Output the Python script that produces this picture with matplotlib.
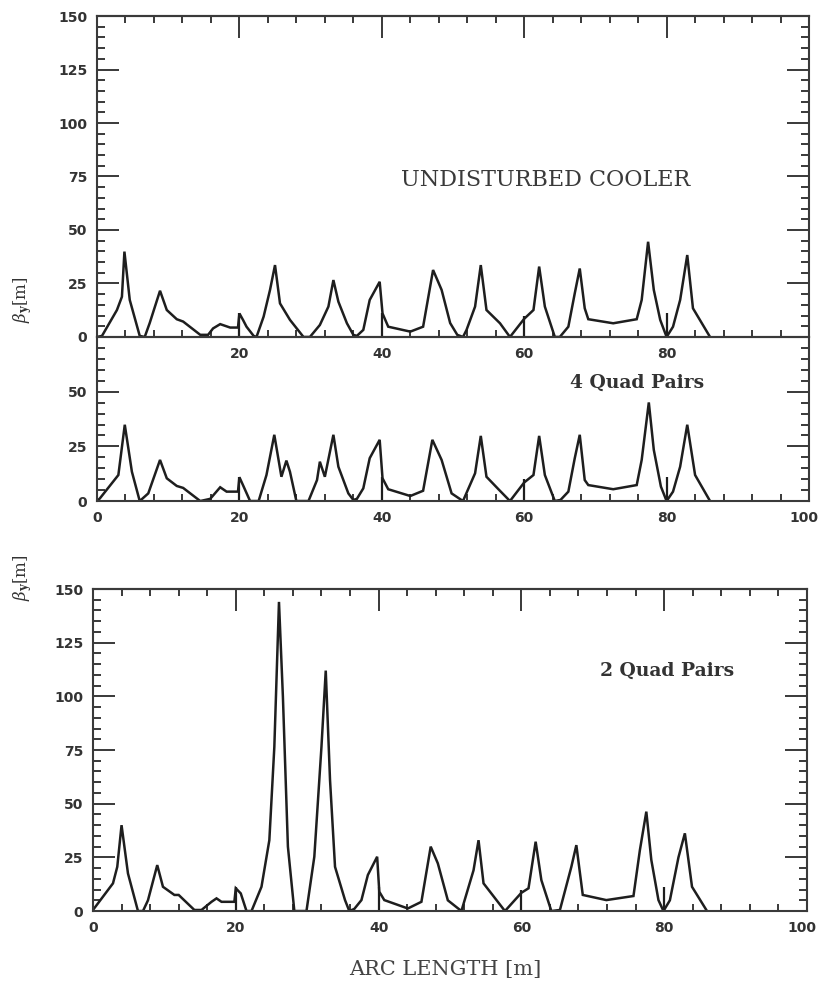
import matplotlib
matplotlib.use("Agg")
import matplotlib.pyplot as plt
import matplotlib.transforms as mtransforms
from matplotlib.ticker import MultipleLocator, FixedLocator, FuncFormatter

# beta_y along the arc, undisturbed cooler
x_undist = [0.0, 0.7, 2.8, 3.5, 3.85, 4.6, 6.0, 6.7, 7.4, 8.85,
            9.8, 11.2, 12.1, 14.5, 15.6, 16.3, 17.3, 18.7, 19.8, 20.0,
            20.5, 21.0, 22.0, 22.4, 23.4, 24.3, 25.0, 25.7, 27.1, 29.0,
            29.9, 31.3, 32.5, 33.2, 33.9, 35.1, 36.0, 36.5, 37.4, 38.3,
            39.7, 40.1, 40.9, 44.0, 45.8, 47.2, 48.4, 49.6, 50.6, 51.4,
            51.9, 53.1, 53.9, 54.7, 56.6, 58.0, 60.0, 61.3, 62.1, 62.9,
            64.3, 65.0, 66.2, 67.1, 67.8, 68.5, 69.0, 72.5, 75.8, 76.5,
            77.4, 78.2, 79.1, 80.0, 80.9, 81.9, 82.9, 83.7, 86.1]
y_undist = [0, 0.5, 12.6, 18.8, 39.9, 17.3, 0.5, 0, 6.5, 21.6,
            12.6, 8.3, 7.2, 1, 1, 4, 6, 4.4, 4.4, 11,
            8, 4.8, 0.5, 0, 9.5, 22, 33.6, 15.7, 8, 0,
            0, 5.6, 14.2, 26.6, 16.5, 6.4, 1, 0.5, 3.3, 17.3,
            25.8, 11, 4.8, 2.5, 4.8, 31.3, 22, 6.5, 1, 0,
            3.3, 14.2, 33.6, 12.6, 6.4, 0, 8.5, 12.6, 32.9, 14.2,
            0, 0, 4.8, 20.4, 32, 13.4, 8.3, 6.4, 8.3, 17.3,
            44.5, 22, 8, 0, 4.8, 17.3, 38.3, 13.4, 0]

# 4 quad pairs
x_quad4 = [0.0, 0.4, 3.0, 3.9, 4.9, 6.0, 7.2, 8.85, 9.8, 11.2,
           12.1, 14.5, 15.9, 17.3, 18.2, 19.8, 20.0, 20.5, 21.5, 22.7,
           23.8, 24.9, 25.9, 26.6, 27.1, 28.0, 29.7, 30.9, 31.3, 32.0,
           33.2, 33.9, 35.3, 36.0, 36.5, 37.4, 38.3, 39.7, 40.1, 40.9,
           44.0, 45.8, 47.1, 48.4, 49.8, 51.4, 53.1, 53.9, 54.7, 56.5,
           58.0, 60.0, 61.3, 62.1, 62.9, 64.3, 65.1, 66.2, 67.1, 67.8,
           68.5, 69.0, 72.5, 75.8, 76.5, 77.5, 78.2, 79.2, 80.0, 80.9,
           81.9, 82.9, 84.0, 86.1]
y_quad4 = [0, 1.2, 11.9, 34.9, 13.4, 0, 3.5, 18.8, 10.4, 6.9,
           6, 0, 1, 6.3, 4.3, 4.3, 10.9, 7.3, 0, 0,
           11.9, 30.3, 11.1, 18.5, 13.4, 0, 0, 9.6, 18, 11.1,
           30.3, 15.7, 3.5, 0.5, 1, 5.8, 19.6, 28, 10.4, 5.4,
           2.3, 4.7, 28, 18.8, 3.5, 0, 12.7, 29.8, 11.1, 5,
           0, 8.5, 11.9, 29.8, 11.9, 0, 0.5, 4.3, 19.6, 30.3,
           9.6, 7.3, 5.4, 7.3, 18.8, 45.1, 23.4, 6.6, 0, 4.3,
           15.7, 34.9, 11.9, 0]

# 2 quad pairs
x_quad2 = [0.0, 2.8, 3.4, 4.0, 4.9, 6.3, 7.0, 7.7, 9.0, 9.8,
           11.4, 12.0, 14.2, 15.2, 16.6, 17.3, 18.0, 19.8, 20.0, 20.7,
           21.5, 22.2, 23.6, 24.7, 25.4, 26.05, 26.6, 27.3, 28.2, 29.9,
           31.0, 32.0, 32.6, 33.2, 33.9, 35.3, 35.9, 36.6, 37.6, 38.5,
           39.8, 40.1, 40.8, 44.1, 46.0, 47.3, 48.3, 49.7, 51.6, 53.3,
           54.0, 54.7, 57.7, 60.0, 61.0, 62.0, 62.8, 64.2, 65.4, 67.0,
           67.7, 68.6, 71.9, 75.7, 76.6, 77.5, 78.2, 79.2, 79.9, 80.8,
           82.0, 82.9, 83.9, 86.0]
y_quad2 = [0.5, 12.9, 20.6, 40, 17.5, 0, 0, 5, 21.4, 11.3,
           7.5, 7.5, 0.5, 0.5, 4.3, 5.9, 4.3, 4.3, 10.6, 8.2,
           0, 0, 11.3, 33, 76.5, 144, 99.8, 30, 0, 0,
           25.3, 76.5, 112, 61, 20.6, 5.1, 0, 1, 5.1, 16.8,
           25.3, 9, 5.1, 1.2, 4.3, 30, 22.2, 5, 0, 19,
           33, 12.9, 0, 8.5, 10.6, 32.3, 14.4, 0, 0.5, 20.6,
           30.7, 7.5, 5.1, 7, 28.4, 46.3, 23.8, 5.1, 0, 5,
           25, 36.2, 11.3, 0]

# short element markers standing on the baseline
marker_x = [20, 40, 60, 80]
marker_h = [11, 11, 10, 11]

panel_titles = ["UNDISTURBED COOLER", "4 Quad Pairs", "2 Quad Pairs"]

ink = "#2a2a2a"
line_col = "#1e1e1e"

plt.rcParams["mathtext.fontset"] = "dejavuserif"

fig = plt.figure(figsize=(8.2, 9.83), dpi=100)
ax_top = fig.add_axes([0.1183, 0.6572, 0.8683, 0.3265])
ax_mid = fig.add_axes([0.1183, 0.4903, 0.8683, 0.1668])
ax_bot = fig.add_axes([0.1134, 0.0732, 0.8707, 0.3276])
ax_mid.patch.set_visible(False)


def style(ax, ymax, yticks, xlabel_vals, top_ticks):
    ax.set_xlim(0, 100)
    ax.set_ylim(0, ymax)
    ax.xaxis.set_major_locator(MultipleLocator(20))
    ax.xaxis.set_minor_locator(MultipleLocator(4))
    ax.yaxis.set_major_locator(FixedLocator(yticks))
    ax.yaxis.set_minor_locator(MultipleLocator(5))
    ax.xaxis.set_major_formatter(FuncFormatter(
        lambda v, p: "%d" % v if int(round(v)) in xlabel_vals else ""))
    ax.tick_params(axis="y", which="major", direction="in", length=16,
                   width=1.3, left=True, right=True, color=ink, pad=7)
    ax.tick_params(axis="y", which="minor", direction="in", length=5.5,
                   width=1.3, left=True, right=True, color=ink)
    ax.tick_params(axis="x", which="both", direction="in", length=5,
                   width=1.3, bottom=True, top=False, color=ink, pad=7)
    for lab in ax.get_xticklabels() + ax.get_yticklabels():
        lab.set_fontweight("bold")
        lab.set_fontsize(10)
        lab.set_color("#333333")
    # last label "100" sits at the right edge, pull it in a bit
    for tick in ax.xaxis.get_major_ticks():
        if abs(tick.get_loc() - 100) < 1e-6:
            lab = tick.label1
            lab.set_horizontalalignment("right")
            lab.set_transform(lab.get_transform() + mtransforms.ScaledTranslation(
                9 / 100, 0, fig.dpi_scale_trans))
    for sp in ax.spines.values():
        sp.set_linewidth(1.5)
        sp.set_color("#3a3a3a")
    if top_ticks:
        sec = ax.secondary_xaxis("top")
        sec.xaxis.set_major_locator(MultipleLocator(20))
        sec.xaxis.set_minor_locator(MultipleLocator(4))
        sec.tick_params(which="major", direction="in", length=16, width=1.3,
                        color=ink, labeltop=False)
        sec.tick_params(which="minor", direction="in", length=5, width=1.3,
                        color=ink)
        sec.spines["top"].set_linewidth(1.5)
        sec.spines["top"].set_color("#3a3a3a")


panels = [(ax_top, x_undist, y_undist), (ax_mid, x_quad4, y_quad4),
          (ax_bot, x_quad2, y_quad2)]
for ax, xs, ys in panels:
    ax.plot(xs, ys, color=line_col, lw=1.8, solid_joinstyle="miter")
    ax.vlines(marker_x, 0, marker_h, color=line_col, lw=1.6)

style(ax_top, 150, [0, 25, 50, 75, 100, 125, 150], [20, 40, 60, 80], True)
style(ax_mid, 75, [0, 25, 50], [0, 20, 40, 60, 80, 100], False)
style(ax_bot, 150, [0, 25, 50, 75, 100, 125, 150], [0, 20, 40, 60, 80, 100], True)

fig.text(546 / 820, 1 - 180 / 983, panel_titles[0], ha="center", va="center",
         family="DejaVu Serif", fontsize=16, color="#3a3a3a")
fig.text(637 / 820, 1 - 383 / 983, panel_titles[1], ha="center", va="center",
         family="DejaVu Serif", fontweight="bold", fontsize=13.5, color="#333333")
fig.text(667 / 820, 1 - 671 / 983, panel_titles[2], ha="center", va="center",
         family="DejaVu Serif", fontweight="bold", fontsize=13.5, color="#333333")

ylab = r"$\beta_{\mathbf{y}}$[m]"
fig.text(23 / 820, 1 - 300 / 983, ylab, rotation=90, ha="center", va="center",
         family="DejaVu Serif", fontsize=12, color="#333333")
fig.text(23 / 820, 1 - 578 / 983, ylab, rotation=90, ha="center", va="center",
         family="DejaVu Serif", fontsize=12, color="#333333")
fig.text(445 / 820, 1 - 969 / 983, "ARC LENGTH [m]", ha="center", va="center",
         family="DejaVu Serif", fontsize=15, color="#444444")

fig.savefig("out.png", dpi=100, facecolor="white")
